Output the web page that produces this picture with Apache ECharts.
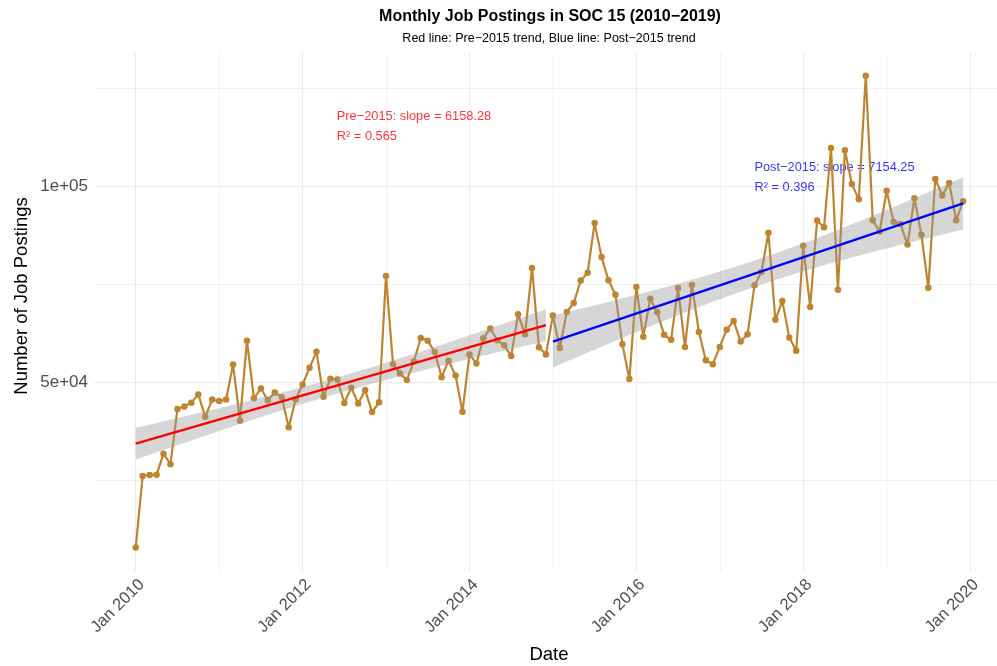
<!DOCTYPE html>
<html>
<head>
<meta charset="utf-8">
<script src="https://cdn.jsdelivr.net/npm/echarts@6/dist/echarts.min.js"></script>
<style>
  html, body { margin: 0; padding: 0; background: #fff; }
  #job_chart { width: 997px; height: 666px; }
</style>
</head>
<body>
<div id="job_chart"></div>
<script>
// monthly job postings, Jan 2010 .. Dec 2019
var start_year = 2010;
var postings_2010 = [7900, 26100, 26350, 26450, 31800, 29100, 43200, 43800, 44800, 46900, 41200, 45600];
var postings_2011 = [45200, 45600, 54500, 40200, 60600, 45900, 48400, 45400, 47400, 46200, 38500, 45600];
var postings_2012 = [49400, 53700, 57800, 46300, 50900, 50700, 44700, 48600, 44600, 48000, 42400, 44900];
var postings_2013 = [77100, 54600, 52200, 50600, 55300, 61300, 60600, 57700, 51300, 55500, 51700, 42500];
var postings_2014 = [57100, 54800, 61200, 63700, 60700, 59400, 56700, 67300, 62200, 79100, 58900, 57100];
var postings_2015 = [67000, 58700, 67900, 70200, 75900, 77900, 90600, 81900, 76000, 72300, 59700, 50800];
var postings_2016 = [74300, 61600, 71300, 67900, 62100, 60800, 74000, 59000, 74800, 62800, 55600, 54600];
var postings_2017 = [59000, 63400, 65600, 60400, 62200, 74700, 78100, 88100, 65900, 70700, 61400, 58000];
var postings_2018 = [84800, 69200, 91200, 89500, 109700, 73600, 109100, 100500, 96600, 128100, 91300, 88400];
var postings_2019 = [98800, 90900, 90300, 85100, 96900, 87600, 74100, 101800, 97600, 100800, 91300, 96100];

var x_tick_years = [2010, 2012, 2014, 2016, 2018, 2020];
var x_minor_years = [2011, 2013, 2015, 2017, 2019];
var y_tick_values = [50000, 100000];
var y_minor_values = [25000, 75000, 125000];

var pre_label = ['Pre\u22122015: slope = 6158.28', 'R\u00b2 = 0.565'];
var post_label = ['Post\u22122015: slope = 7154.25', 'R\u00b2 = 0.396'];

job_chart();

function fit_line(pts){
    var n = pts.length, sx = 0, sy = 0;
    pts.forEach(function(p){ sx += p[0]; sy += p[1]; });
    var mx = sx / n, my = sy / n, sxx = 0, sxy = 0;
    pts.forEach(function(p){ sxx += (p[0]-mx)*(p[0]-mx); sxy += (p[0]-mx)*(p[1]-my); });
    var b = sxy / sxx, a = my - b * mx, sse = 0;
    pts.forEach(function(p){ var r = p[1] - (a + b*p[0]); sse += r*r; });
    var s = Math.sqrt(sse / (n - 2));
    var x0 = pts[0][0], x1 = pts[n-1][0];
    var upper = [], lower = [];
    for (var i = 0; i <= 40; i++){
        var x = x0 + (x1 - x0) * i / 40;
        var se = s * Math.sqrt(1/n + (x-mx)*(x-mx)/sxx);
        upper.push([x, a + b*x + 2.0017*se]);
        lower.push([x, a + b*x - 2.0017*se]);
    }
    return { line: [[x0, a + b*x0], [x1, a + b*x1]], upper: upper, lower: lower };
}

function sci_label(v){
    var e = Math.floor(Math.log10(v));
    var m = Math.round(v / Math.pow(10, e));
    return m + 'e+' + (e < 10 ? '0' + e : e);
}

function band_series(fit, z){
    return {
        type: 'custom',
        z: z,
        silent: true,
        data: [[fit.line[0][0], fit.line[0][1]]],
        renderItem: function(params, api){
            var pts = [];
            fit.upper.forEach(function(p){ pts.push(api.coord(p)); });
            fit.lower.slice().reverse().forEach(function(p){ pts.push(api.coord(p)); });
            return { type: 'polygon', shape: { points: pts }, style: { fill: 'rgba(153,153,153,0.4)' } };
        }
    };
}

function job_chart(){
    var chart = echarts.init(document.getElementById('job_chart'), null, { renderer: 'canvas' });

    var all_years = [postings_2010, postings_2011, postings_2012, postings_2013, postings_2014,
                     postings_2015, postings_2016, postings_2017, postings_2018, postings_2019];
    var points = [];
    all_years.forEach(function(vals, yi){
        vals.forEach(function(v, m){ points.push([start_year + yi + m / 12, v]); });
    });
    var pre = points.filter(function(p){ return p[0] < 2015; });
    var post = points.filter(function(p){ return p[0] >= 2015; });
    var pre_fit = fit_line(pre), post_fit = fit_line(post);

    var grid_lines = [];
    x_tick_years.forEach(function(y){ grid_lines.push({ xAxis: y, lineStyle: { width: 1.1 } }); });
    x_minor_years.forEach(function(y){ grid_lines.push({ xAxis: y, lineStyle: { width: 0.7 } }); });
    y_tick_values.forEach(function(v){ grid_lines.push({ yAxis: v, lineStyle: { width: 1.1 } }); });
    y_minor_values.forEach(function(v){ grid_lines.push({ yAxis: v, lineStyle: { width: 0.7 } }); });

    var font = 'Liberation Sans, Arial, sans-serif';
    var brown = '#C0842F';

    var option = {
        animation: false,
        textStyle: { fontFamily: font },
        grid: { left: 94, right: 0, top: 53, bottom: 95 },
        xAxis: {
            type: 'value',
            min: 2009.5,
            max: 2020.323,
            axisLine: { show: false },
            axisTick: { show: false },
            splitLine: { show: false },
            axisLabel: {
                customValues: x_tick_years,
                formatter: function(v){ return 'Jan ' + v; },
                rotate: 45,
                verticalAlign: 'top',
                margin: 5,
                fontSize: 16.5,
                color: '#4D4D4D',
                fontFamily: font
            }
        },
        yAxis: {
            type: 'value',
            min: 1900,
            max: 133900,
            axisLine: { show: false },
            axisTick: { show: false },
            splitLine: { show: false },
            axisLabel: {
                customValues: y_tick_values,
                formatter: sci_label,
                margin: 6,
                fontSize: 17,
                color: '#4D4D4D',
                fontFamily: font
            }
        },
        graphic: [
            { type: 'text', x: 550, y: 17, style: { text: 'Monthly Job Postings in SOC 15 (2010\u22122019)', textAlign: 'center', textVerticalAlign: 'middle', font: 'bold 16px ' + font, fill: '#000' } },
            { type: 'text', x: 549, y: 39, style: { text: 'Red line: Pre\u22122015 trend, Blue line: Post\u22122015 trend', textAlign: 'center', textVerticalAlign: 'middle', font: '12.5px ' + font, fill: '#000' } },
            { type: 'text', x: 549, y: 655, style: { text: 'Date', textAlign: 'center', textVerticalAlign: 'middle', font: '18.5px ' + font, fill: '#000' } },
            { type: 'text', x: 22, y: 296, rotation: Math.PI / 2, style: { text: 'Number of Job Postings', textAlign: 'center', textVerticalAlign: 'middle', font: '18.5px ' + font, fill: '#000' } }
        ],
        series: [
            {
                name: 'grid',
                type: 'line',
                data: [],
                z: 0,
                markLine: {
                    z: 0,
                    silent: true,
                    symbol: ['none', 'none'],
                    label: { show: false },
                    lineStyle: { color: '#EBEBEB', type: 'solid' },
                    data: grid_lines
                }
            },
            {
                name: 'notes',
                type: 'scatter',
                z: 1,
                symbolSize: 0,
                silent: true,
                data: [
                    { value: [2012.41, 115300], label: { color: '#FF0000', formatter: pre_label.join('\n') } },
                    { value: [2017.416, 102170], label: { color: '#0000FF', formatter: post_label.join('\n') } }
                ],
                label: { show: true, position: 'right', distance: 0, fontSize: 12.8, lineHeight: 20, fontFamily: font }
            },
            {
                name: 'postings',
                type: 'line',
                z: 2,
                data: points,
                symbol: 'circle',
                symbolSize: 6.5,
                showSymbol: true,
                lineStyle: { color: brown, width: 2.2 },
                itemStyle: { color: brown }
            },
            band_series(pre_fit, 3),
            band_series(post_fit, 3),
            {
                name: 'pre trend',
                type: 'line',
                z: 4,
                data: pre_fit.line,
                showSymbol: false,
                lineStyle: { color: '#FF0000', width: 2.4 }
            },
            {
                name: 'post trend',
                type: 'line',
                z: 4,
                data: post_fit.line,
                showSymbol: false,
                lineStyle: { color: '#0000FF', width: 2.4 }
            }
        ]
    };
    chart.setOption(option);
}
</script>
</body>
</html>
